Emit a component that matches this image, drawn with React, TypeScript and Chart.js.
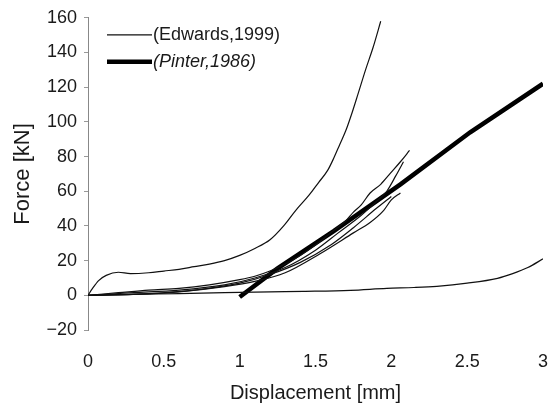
import React, { useEffect, useRef } from 'react';
import { Chart, registerables } from 'chart.js';

Chart.register(...registerables);

// ---- axis ticks ----
const xTickValues = [0, 0.5, 1, 1.5, 2, 2.5, 3];
const yTickValues = [-20, 0, 20, 40, 60, 80, 100, 120, 140, 160];

// ---- series labels ----
const edwardsLabel = '(Edwards,1999)';
const pinterLabel = '(Pinter,1986)';

// ---- Edwards (1999) test curves ----
const edwardsUpperX = [0, 0.03, 0.07, 0.12, 0.2, 0.28, 0.4, 0.5, 0.6, 0.7, 0.8, 0.9, 1.0, 1.1, 1.2, 1.29, 1.37, 1.46, 1.52, 1.58, 1.62, 1.66, 1.7, 1.74, 1.78, 1.83, 1.88, 1.93];
const edwardsUpperY = [0, 4, 8.5, 11.5, 13.3, 12.5, 13, 14, 15, 16.5, 18, 20, 23, 27, 32, 40, 49, 58, 65, 72, 79, 87, 95, 105, 116, 130, 143, 158];

const edwardsAX = [0, 0.2, 0.4, 0.6, 0.8, 1.0, 1.1, 1.2, 1.3, 1.4, 1.5, 1.6, 1.7, 1.75, 1.8, 1.86, 1.93, 1.99, 2.06, 2.12];
const edwardsAY = [0, 1.5, 3, 4, 6, 9, 11, 14, 18, 23, 29, 36, 43, 48, 52, 59, 64, 70, 77, 83.5];

const edwardsBX = [0, 0.3, 0.6, 0.9, 1.1, 1.3, 1.5, 1.65, 1.8, 1.9, 1.97, 2.03, 2.08];
const edwardsBY = [0, 1.5, 3, 6, 10, 16, 26, 36, 46, 54, 60, 69, 77];

const edwardsCX = [0, 0.3, 0.6, 0.9, 1.1, 1.3, 1.53, 1.75, 1.86, 1.95, 2.0, 2.06];
const edwardsCY = [0, 0.5, 2, 5, 8, 13, 24, 36, 42, 49, 55, 59];

const edwardsDX = [0, 0.4, 0.7, 1.0, 1.2, 1.4, 1.6, 1.75, 1.9, 2.0];
const edwardsDY = [0, 1, 3, 7, 12, 19, 29, 39, 50, 57];

const edwardsLowerX = [0, 0.3, 0.6, 0.9, 1.2, 1.42, 1.73, 1.97, 2.15, 2.3, 2.5, 2.7, 2.8, 2.9, 3.0];
const edwardsLowerY = [0, 0.5, 1, 1.5, 2, 2.3, 2.9, 4, 4.5, 5.2, 7, 9.8, 12.5, 16, 21];

// ---- Pinter (1986) ----
const pinterX = [1.0, 1.25, 1.62, 2.06, 2.52, 3.0];
const pinterY = [-1, 15.5, 37, 64, 94, 122];

const zip = (xs: number[], ys: number[]) => xs.map((x, i) => ({ x, y: ys[i] }));

const TEXT_COLOR = '#1a1a1a';
const FONT_FAMILY = '"Liberation Sans", Arial, Helvetica, sans-serif';

const insideLegend = {
  id: 'insideLegend',
  afterDatasetsDraw(chart: any) {
    const { ctx, chartArea } = chart;
    const entries = [
      { index: 0, italic: false, dy: 17 },
      { index: chart.data.datasets.length - 1, italic: true, dy: 44 },
    ];
    ctx.save();
    for (const e of entries) {
      const ds = chart.data.datasets[e.index];
      const y = chartArea.top + e.dy;
      const x0 = chartArea.left + 19;
      const x1 = chartArea.left + 64;
      ctx.beginPath();
      ctx.strokeStyle = ds.borderColor;
      ctx.lineWidth = ds.borderWidth;
      ctx.lineCap = 'butt';
      ctx.moveTo(x0, y);
      ctx.lineTo(x1, y);
      ctx.stroke();
      ctx.fillStyle = TEXT_COLOR;
      ctx.font = `${e.italic ? 'italic ' : ''}18px ${FONT_FAMILY}`;
      ctx.textBaseline = 'middle';
      ctx.textAlign = 'left';
      ctx.fillText(ds.label, x1 + 1, y);
    }
    ctx.restore();
  },
};

export default function App() {
  const canvasRef = useRef<HTMLCanvasElement | null>(null);

  useEffect(() => {
    if (!canvasRef.current) return;
    const thin = {
      borderColor: '#111',
      borderWidth: 1.2,
      pointRadius: 0,
      cubicInterpolationMode: 'monotone',
      fill: false,
    };
    const chart = new Chart(canvasRef.current, {
      type: 'line',
      data: {
        datasets: [
          { ...thin, label: edwardsLabel, data: zip(edwardsUpperX, edwardsUpperY) },
          { ...thin, label: edwardsLabel, data: zip(edwardsAX, edwardsAY) },
          { ...thin, label: edwardsLabel, data: zip(edwardsBX, edwardsBY) },
          { ...thin, label: edwardsLabel, data: zip(edwardsCX, edwardsCY) },
          { ...thin, label: edwardsLabel, data: zip(edwardsDX, edwardsDY) },
          { ...thin, label: edwardsLabel, data: zip(edwardsLowerX, edwardsLowerY) },
          {
            label: pinterLabel,
            data: zip(pinterX, pinterY),
            borderColor: '#000',
            borderWidth: 4.5,
            pointRadius: 0,
            tension: 0,
            fill: false,
          },
        ],
      },
      options: {
        animation: false,
        responsive: false,
        maintainAspectRatio: false,
        layout: { padding: { top: 17, right: 12, left: 0, bottom: 0 } },
        plugins: {
          legend: { display: false },
          tooltip: { enabled: false },
        },
        scales: {
          x: {
            type: 'linear',
            min: 0,
            max: 3,
            afterFit: (s: any) => { s.height = 77; },
            afterBuildTicks: (s: any) => { s.ticks = xTickValues.map((v) => ({ value: v })); },
            border: { display: false },
            grid: { display: true, drawOnChartArea: false, drawTicks: true, tickLength: 21, color: 'rgba(0,0,0,0)' },
            ticks: {
              padding: 0,
              color: TEXT_COLOR,
              font: { family: FONT_FAMILY, size: 18 },
              callback: (v: any) => String(v),
            },
            title: {
              display: true,
              text: 'Displacement [mm]',
              color: TEXT_COLOR,
              font: { family: FONT_FAMILY, size: 20 },
              padding: { top: 0, bottom: 2 },
            },
          },
          y: {
            type: 'linear',
            min: -20,
            max: 160,
            afterFit: (s: any) => { s.width = 88; },
            afterBuildTicks: (s: any) => { s.ticks = yTickValues.map((v) => ({ value: v })); },
            border: { display: true, color: '#888', width: 1, dash: [1, 3] },
            grid: { display: true, drawOnChartArea: false, drawTicks: true, tickLength: 4, color: '#999' },
            ticks: {
              padding: 7,
              color: TEXT_COLOR,
              font: { family: FONT_FAMILY, size: 18 },
              callback: (v: any) => (v < 0 ? '\u2212' + Math.abs(v) : String(v)),
            },
            title: {
              display: true,
              text: 'Force [kN]',
              color: TEXT_COLOR,
              font: { family: FONT_FAMILY, size: 22 },
              padding: { top: 10, bottom: 0 },
            },
          },
        },
      },
      plugins: [insideLegend],
    } as any);
    return () => chart.destroy();
  }, []);

  return (
    <div style={{ position: 'absolute', left: 0, top: 0, width: 555, height: 407, background: '#fff' }}>
      <canvas ref={canvasRef} width={555} height={407} style={{ width: 555, height: 407, display: 'block' }} />
    </div>
  );
}
